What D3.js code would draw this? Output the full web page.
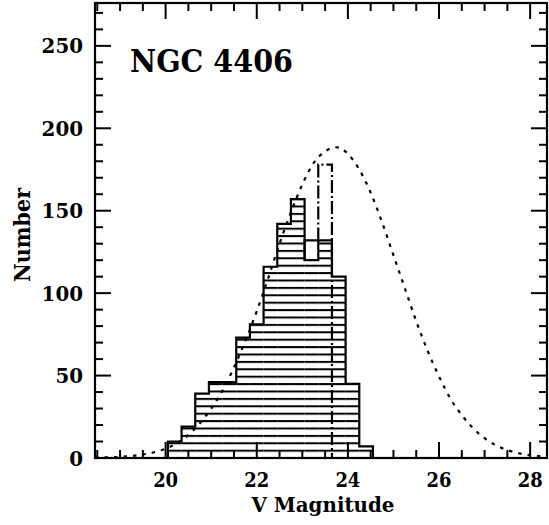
<!DOCTYPE html>
<html>
<head>
<meta charset="utf-8">
<script src="https://cdn.jsdelivr.net/npm/d3@7/dist/d3.min.js"></script>
<style>
  html, body { margin: 0; padding: 0; background: #fff; }
  svg { display: block; }
  text { font-family: "DejaVu Serif", "Liberation Serif", serif; font-weight: bold; fill: #000; }
</style>
</head>
<body>
<script>
// Globular cluster luminosity function, NGC 4406
const binEdges = [20.05, 20.35, 20.65, 20.95, 21.25, 21.55, 21.85, 22.15, 22.45,
                  22.75, 23.05, 23.35, 23.65, 23.95, 24.25, 24.55];
const counts = [10, 19, 39, 46, 46, 73, 81, 116, 142, 157, 120, 132, 110, 45, 7];

// completeness-corrected counts for the two faintest complete bins
const correctedBins = [10, 11];          // indices into the bins above
const correctedCounts = [132, 178];

// limiting magnitude marker
const limitMag = 23.65;

// fitted Gaussian luminosity function
const fitMag = [18.45, 18.75, 19.0, 19.25, 19.5, 19.75, 20.0, 20.25, 20.5, 20.75, 21.0,
                21.25, 21.5, 21.75, 22.0, 22.25, 22.5, 22.75, 23.0, 23.25, 23.5, 23.75,
                24.0, 24.25, 24.5, 24.75, 25.0, 25.25, 25.5, 25.75, 26.0, 26.25, 26.5,
                26.75, 27.0, 27.25, 27.5, 27.75, 28.0, 28.25, 28.37];
const fitN = [0.2, 0.4, 0.7, 1.2, 2.1, 3.5, 5.6, 9, 14, 21, 30,
              41, 55, 71, 89, 109, 130, 149, 166, 179, 186, 188.5,
              184.5, 175, 161, 143, 123, 103, 83, 65, 49.5, 36, 26,
              18, 12, 7.7, 4.8, 2.9, 1.7, 1.0, 0.7];

const xTicksMajor = [20, 22, 24, 26, 28];
const yTicksMajor = [0, 50, 100, 150, 200, 250];
const title = "NGC 4406";
const xLabel = "V Magnitude";
const yLabel = "Number";

const W = 549, H = 525;
const plot = { left: 95, right: 547, top: 3, bottom: 458 };

const svg = d3.select("body").append("svg").attr("width", W).attr("height", H);

const x = d3.scaleLinear().domain([18.45, 28.37]).range([plot.left, plot.right]);
const y = d3.scaleLinear().domain([0, 276]).range([plot.bottom, plot.top]);

// horizontal hatching
const hatchStep = 7.4;
const defs = svg.append("defs");
const pat = defs.append("pattern")
  .attr("id", "hatch")
  .attr("patternUnits", "userSpaceOnUse")
  .attr("x", 0).attr("y", plot.bottom - 0.9)
  .attr("width", 20).attr("height", hatchStep);
pat.append("rect").attr("x", 0).attr("y", 0).attr("width", 20).attr("height", 2).attr("fill", "#000");

const bins = counts.map((c, i) => ({ x0: binEdges[i], x1: binEdges[i + 1], n: c }));

svg.append("g").selectAll("rect").data(bins).join("rect")
  .attr("x", d => x(d.x0))
  .attr("width", d => x(d.x1) - x(d.x0))
  .attr("y", d => y(d.n))
  .attr("height", d => y(0) - y(d.n))
  .attr("fill", "url(#hatch)");

// histogram outline
const outline = d3.path();
outline.moveTo(x(bins[0].x0), y(0));
bins.forEach(d => { outline.lineTo(x(d.x0), y(d.n)); outline.lineTo(x(d.x1), y(d.n)); });
outline.lineTo(x(bins[bins.length - 1].x1), y(0));
svg.append("path").attr("d", outline.toString())
  .attr("fill", "none").attr("stroke", "#000").attr("stroke-width", 2.2)
  .attr("stroke-linejoin", "miter");

// corrected bin (solid) above the observed count
{
  const b = bins[correctedBins[0]];
  const p = d3.path();
  p.moveTo(x(b.x0), y(b.n));
  p.lineTo(x(b.x0), y(correctedCounts[0]));
  p.lineTo(x(b.x1), y(correctedCounts[0]));
  svg.append("path").attr("d", p.toString())
    .attr("fill", "none").attr("stroke", "#000").attr("stroke-width", 2.2);
}
// corrected bin (dash-dot) down to the limit line
{
  const b = bins[correctedBins[1]];
  const p = d3.path();
  p.moveTo(x(b.x0), y(b.n));
  p.lineTo(x(b.x0), y(correctedCounts[1]));
  p.lineTo(x(limitMag), y(correctedCounts[1]));
  p.lineTo(x(limitMag), y(0));
  svg.append("path").attr("d", p.toString())
    .attr("fill", "none").attr("stroke", "#000").attr("stroke-width", 2.2)
    .attr("stroke-dasharray", "13,3,2,3");
}

// Gaussian fit, dotted
const line = d3.line().x((d, i) => x(fitMag[i])).y(d => y(d)).curve(d3.curveMonotoneX);
svg.append("path").attr("d", line(fitN))
  .attr("fill", "none").attr("stroke", "#000").attr("stroke-width", 2.2)
  .attr("stroke-dasharray", "3.5,6");

// frame
svg.append("rect")
  .attr("x", plot.left).attr("y", plot.top)
  .attr("width", plot.right - plot.left).attr("height", plot.bottom - plot.top)
  .attr("fill", "none").attr("stroke", "#000").attr("stroke-width", 2.2);

// ticks on all four sides, pointing inward
const majLen = 16, minLen = 8;
const xMinor = d3.range(18.5, 28.37, 0.5).filter(v => !xTicksMajor.some(m => Math.abs(m - v) < 1e-6));
const yMinor = d3.range(0, 276, 10).filter(v => v % 50 !== 0);

function xTicks(vals, len) {
  svg.append("g").selectAll("line.b").data(vals).join("line")
    .attr("x1", d => x(d)).attr("x2", d => x(d))
    .attr("y1", plot.bottom).attr("y2", plot.bottom - len)
    .attr("stroke", "#000").attr("stroke-width", 2);
  svg.append("g").selectAll("line.t").data(vals).join("line")
    .attr("x1", d => x(d)).attr("x2", d => x(d))
    .attr("y1", plot.top).attr("y2", plot.top + len)
    .attr("stroke", "#000").attr("stroke-width", 2);
}
function yTicks(vals, len) {
  svg.append("g").selectAll("line.l").data(vals).join("line")
    .attr("y1", d => y(d)).attr("y2", d => y(d))
    .attr("x1", plot.left).attr("x2", plot.left + len)
    .attr("stroke", "#000").attr("stroke-width", 2);
  svg.append("g").selectAll("line.r").data(vals).join("line")
    .attr("y1", d => y(d)).attr("y2", d => y(d))
    .attr("x1", plot.right).attr("x2", plot.right - len)
    .attr("stroke", "#000").attr("stroke-width", 2);
}
xTicks(xTicksMajor, majLen);
xTicks(xMinor, minLen);
yTicks(yTicksMajor, majLen);
yTicks(yMinor, minLen);

// tick labels
svg.append("g").selectAll("text").data(xTicksMajor).join("text")
  .attr("x", d => x(d)).attr("y", 487)
  .attr("text-anchor", "middle").attr("font-size", 20)
  .attr("textLength", 25).attr("lengthAdjust", "spacingAndGlyphs")
  .text(d => d);
svg.append("g").selectAll("text").data(yTicksMajor).join("text")
  .attr("x", 83).attr("y", d => y(d) + 7.5)
  .attr("text-anchor", "end").attr("font-size", 20)
  .attr("textLength", d => String(d).length * 13.8).attr("lengthAdjust", "spacingAndGlyphs")
  .text(d => d);

// axis titles
svg.append("text").attr("x", 323).attr("y", 512)
  .attr("text-anchor", "middle").attr("font-size", 20)
  .attr("textLength", 143).attr("lengthAdjust", "spacingAndGlyphs").text(xLabel);
svg.append("text")
  .attr("transform", "translate(30,235) rotate(-90)")
  .attr("text-anchor", "middle").attr("font-size", 22)
  .attr("textLength", 94).attr("lengthAdjust", "spacingAndGlyphs").text(yLabel);

// object name
svg.append("text").attr("x", 130).attr("y", 72)
  .attr("font-size", 31)
  .attr("textLength", 163).attr("lengthAdjust", "spacingAndGlyphs").text(title);
</script>
</body>
</html>
